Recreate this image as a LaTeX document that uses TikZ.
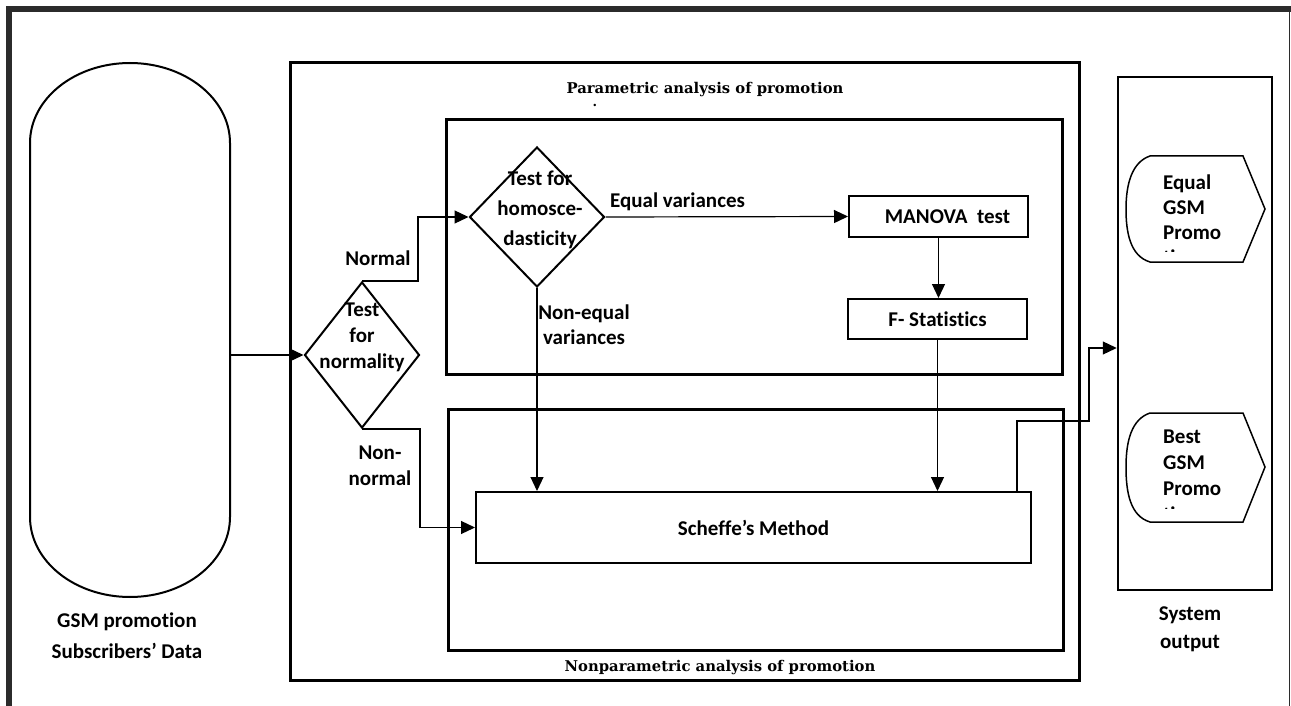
\documentclass[tikz,border=0pt]{standalone}
\usepackage{fontspec}
\setmainfont{Carlito}[Ligatures=CommonOff]
\newfontfamily\titlefont{DejaVu Serif}
\usetikzlibrary{arrows.meta,shapes.geometric}
\definecolor{framegray}{HTML}{2B2B2B}
\begin{document}
\begin{tikzpicture}[x=1pt,y=-1pt,
  heavybox/.style={draw, line width=3pt, inner sep=0},
  procbox/.style={draw, line width=2pt, inner sep=0, font=\fontsize{21}{25}\selectfont\bfseries},
  decision/.style={diamond, draw, line width=2pt, inner sep=0},
  conn/.style={line width=1.2pt},
  arr/.style={conn, -{Triangle[length=14pt,width=13pt]}},
  lbl/.style={font=\fontsize{21}{26}\selectfont\bfseries, align=center, inner sep=0},
  outlbl/.style={font=\fontsize{21}{25}\selectfont\bfseries, align=left, inner sep=0, anchor=north west},
  title/.style={font=\titlefont\fontsize{14.8}{17}\selectfont\bfseries, inner sep=0}]
\useasboundingbox (0,0) rectangle (1291,706);
% outer frame
\fill[framegray] (6,6) rectangle (1291,12);
\fill[framegray] (6,6) rectangle (12,706);
\draw[framegray, line width=1.5pt] (1289.5,12) -- (1289.5,706);

% cylinder (data store)
\node[minimum width=200, minimum height=534, inner sep=0] (cyl) at (130,330) {};
\draw[line width=2pt] (30,143) -- (30,517) arc (180:0:100 and 80) -- (230,143) arc (0:-180:100 and 80) -- cycle;
\node[lbl, font=\fontsize{21}{31}\selectfont\bfseries] (cyltxt) at (127,636) {GSM promotion\\Subscribers’ Data};

% frames
\node[heavybox, minimum width=789, minimum height=617] (big) at (684.5,371.5) {};
\node[heavybox, minimum width=616, minimum height=254] (param) at (754,247) {};
\node[heavybox, minimum width=615, minimum height=241] (nonparam) at (755.5,529.5) {};
\node[draw, line width=2.5pt, minimum width=154, minimum height=513, inner sep=0] (output) at (1195,333.5) {};

\node[title] (ptitle) at (705,90) {Parametric analysis of promotion};
\node[title, font=\titlefont\fontsize{13}{14}\selectfont\bfseries] (pdot) at (595,105) {.};
\node[title] (ntitle) at (720,668) {Nonparametric analysis of promotion};
\node[lbl, font=\fontsize{21}{28}\selectfont\bfseries] (outtxt) at (1190,629) {System\\output};

% decisions
\node[decision, minimum width=115, minimum height=146] (norm) at (362,355) {};
\node[lbl] (normtxt) at (362,337) {Test\\for\\normality};
\node[decision, minimum width=135, minimum height=140] (homo) at (537,217) {};
\node[lbl, font=\fontsize{21}{30}\selectfont\bfseries] (homotxt) at (540,210) {Test for\\homosce-\\dasticity};

% process boxes
\node[procbox, minimum width=179, minimum height=41] (manova) at (938.5,216.5) {\hspace*{18pt}MANOVA~~test};
\node[procbox, minimum width=179, minimum height=40] (fstat) at (937.5,319) {F- Statistics};
\node[procbox, minimum width=555, minimum height=71] (scheffe) at (753.5,527.5) {Scheffe’s Method};

% labels
\node[lbl] (lnormal) at (378,258) {Normal};
\node[lbl] (lnonnormal) at (380,466) {Non-\\normal};
\node[lbl, anchor=west] (leq) at (610,202) {Equal variances};
\node[lbl, font=\fontsize{21}{25}\selectfont\bfseries] (lneq) at (584,325) {Non-equal\\variances};

% connectors
\coordinate (xs) at (1017,0);
\coordinate (xj) at (1089,0);
\coordinate (yj) at (0,348);
\draw[arr] (cyl.east |- norm.west) -- (norm.west);
\draw[arr] (norm.north) -- ++(56,0) |- (homo.west);
\draw[arr] (norm.south) -- ++(58,0) |- (scheffe.west);
\draw[arr] (homo.east) -- (manova.west);
\draw[arr] (homo.south) -- (homo.south |- scheffe.north);
\draw[arr] (manova.south) -- (manova.south |- fstat.north);
\draw[arr] (fstat.south) -- (fstat.south |- scheffe.north);
\draw[arr] (scheffe.north -| xs) -- (xs |- 0,421) -- (xj |- 0,421) -- (xj |- yj) -- (output.west |- yj);

% output display shapes
\draw[line width=1.5pt] (1243,156) -- (1265,209) -- (1243,262) -- (1150,262)
  .. controls (1130,256) and (1126,232) .. (1126,209)
  .. controls (1126,184) and (1132,162) .. (1150,156) -- cycle;
\begin{scope}
\clip (1126,150) rectangle (1265,251);
\node[outlbl] (eqtxt) at (1163,175) {Equal\\GSM\\Promo\\tion};
\end{scope}
\draw[line width=1.5pt] (1243,413) -- (1265,467) -- (1243,522) -- (1150,522)
  .. controls (1130,516) and (1126,492) .. (1126,467)
  .. controls (1126,440) and (1132,419) .. (1150,413) -- cycle;
\begin{scope}
\clip (1126,405) rectangle (1265,508);
\node[outlbl, font=\fontsize{21}{26}\selectfont\bfseries] (besttxt) at (1163,430) {Best\\GSM\\Promo\\tion};
\end{scope}
\end{tikzpicture}
\end{document}
